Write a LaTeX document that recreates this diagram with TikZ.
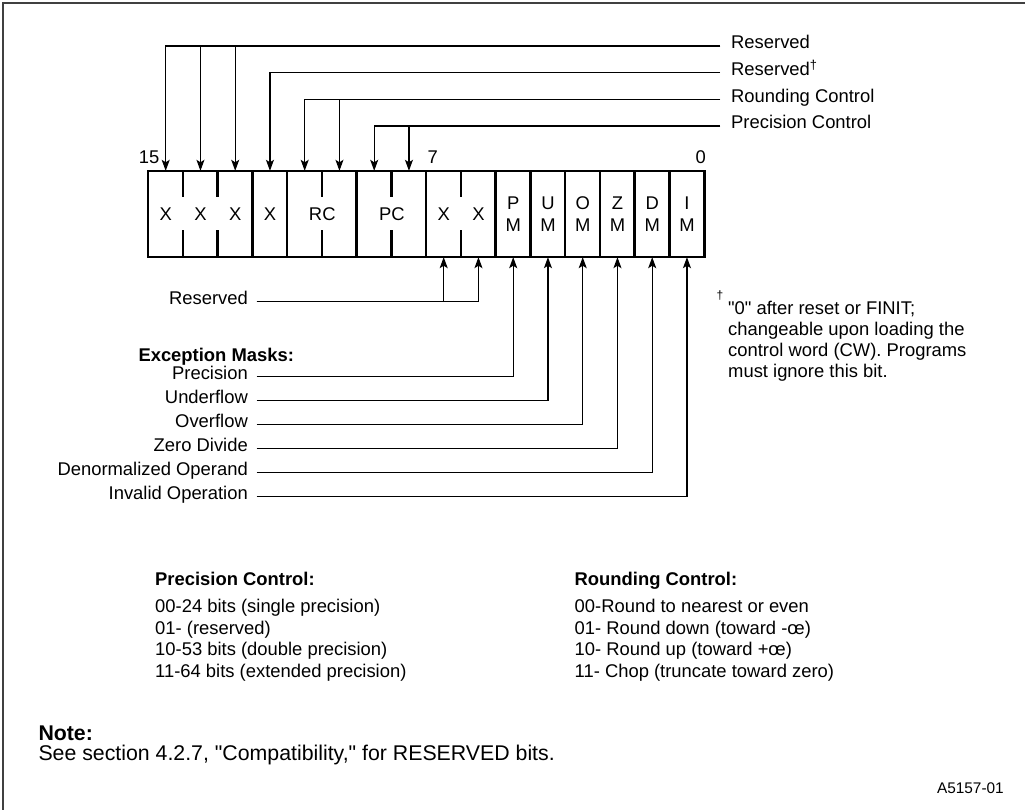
\documentclass[tikz,border=0pt]{standalone}
\usepackage{fontspec}
\setmainfont{Liberation Sans}
\usetikzlibrary{arrows.meta}

\begin{document}
\begin{tikzpicture}[
  x=1pt, y=-1pt,
  txt/.style={font=\fontsize{18.4}{21.5}\selectfont, inner sep=0pt},
  head/.style={txt, font=\fontsize{18.4}{21.5}\selectfont\bfseries, anchor=base west},
  cell/.style={minimum width=34.75pt, minimum height=86pt, inner sep=0pt},
  reg/.style={line width=2.3pt},
  arrow/.style={line width=1.1pt, -{Stealth[length=11pt, width=8pt, inset=2.5pt]}},
  lname/.style={txt, text height=11pt, text depth=5pt, inner xsep=8.7pt, anchor=east},
  rname/.style={txt, text height=11pt, text depth=5pt, inner xsep=11pt, anchor=west}
]
\useasboundingbox (0,0) rectangle (1025,810);

% Frame
\draw[line width=2.3pt, black!75] (3,810) -- (3,3) -- (1025,3);

% Control word bits
\foreach \n/\lab in {15/X, 14/X, 13/X, 12/X, 11/{}, 10/{}, 9/{}, 8/{}, 7/X, 6/X,
    5/{P\\M}, 4/{U\\M}, 3/{O\\M}, 2/{Z\\M}, 1/{D\\M}, 0/{I\\M}}
  \node[cell, txt, align=center] (b\n) at ({165.7+(15-\n)*34.75}, 214) {\lab};
\node[txt] (rc) at (b11.east) {RC};
\node[txt] (pc) at (b9.east) {PC};

\draw[reg] (b15.north west) rectangle (b0.south east);
\foreach \n in {12,11,9,7,5,4,3,2,1,0}
  \draw[reg] (b\n.north west) -- (b\n.south west);
\foreach \n in {14,13,10,8,6} {
  \draw[reg] (b\n.north west) -- ++(0,26);
  \draw[reg] (b\n.south west) -- ++(0,-27);
}

% Bit numbers
\node[txt, anchor=base east] (n15) at (159.5, 163.3) {15};
\node[txt, anchor=base west] (n7) at (427.5, 163.3) {7};
\node[txt, anchor=base east] (n0) at (706, 163.3) {0};

% Fields above
\node[rname] (res) at (720, 46) {Reserved};
\node[rname] (resd) at (720, 72.7) {Reserved\textsuperscript{\textdagger}};
\node[rname] (rcl) at (720, 99.3) {Rounding Control};
\node[rname] (pcl) at (720, 126) {Precision Control};

\foreach \bit in {15,14,13}
  \draw[arrow] (res.west) -| (b\bit.north);
\draw[arrow] (resd.west) -| (b12.north);
\foreach \bit in {11,10}
  \draw[arrow] (rcl.west) -| (b\bit.north);
\foreach \bit in {9,8}
  \draw[arrow] (pcl.west) -| (b\bit.north);

% Fields below
\node[lname] (resb) at (256.7, 301.7) {Reserved};
\foreach \bit in {7,6}
  \draw[arrow] (resb.east) -| (b\bit.south);

\node[head] (exc) at (138.3, 361) {Exception Masks:};
\foreach \lab/\bit [count=\row from 0] in {Precision/5, Underflow/4, Overflow/3,
    Zero Divide/2, Denormalized Operand/1, Invalid Operation/0} {
  \node[lname] (m\bit) at (256.7, {376.7+24*\row}) {\lab};
  \draw[arrow] (m\bit.east) -| (b\bit.south);
}

% Footnote
\node[txt, anchor=north, font=\fontsize{12}{12}\selectfont] (dag) at (720, 291) {\textdagger};
\node[txt, anchor=north west, align=left, font=\fontsize{18.4}{21}\selectfont] (fn) at (728, 300.6)
  {\textquotedbl0\textquotedbl{} after reset or FINIT;\\changeable upon loading the\\control word (CW). Programs\\must ignore this bit.};

% Legends
\node[head] (pch) at (155, 585) {Precision Control:};
\node[txt, anchor=north west, align=left] (pct) at (155, 599.1)
  {00-24 bits (single precision)\\01- (reserved)\\10-53 bits (double precision)\\11-64 bits (extended precision)};
\node[head] (rch) at (574.5, 585) {Rounding Control:};
\node[txt, anchor=north west, align=left] (rct) at (574.5, 599.1)
  {00-Round to nearest or even\\01- Round down (toward -œ)\\10- Round up (toward +œ)\\11- Chop (truncate toward zero)};

% Note
\node[head, font=\fontsize{21.3}{21.3}\selectfont\bfseries] (note) at (38.3, 740) {Note:};
\node[txt, anchor=base west, font=\fontsize{21.3}{21.3}\selectfont] (see) at (38.3, 760)
  {See section 4.2.7, \textquotedbl Compatibility,\textquotedbl{} for RESERVED bits.};
\node[txt, anchor=base east, font=\fontsize{15.4}{15.4}\selectfont] (fig) at (1004, 793) {A5157-01};

\end{tikzpicture}
\end{document}
